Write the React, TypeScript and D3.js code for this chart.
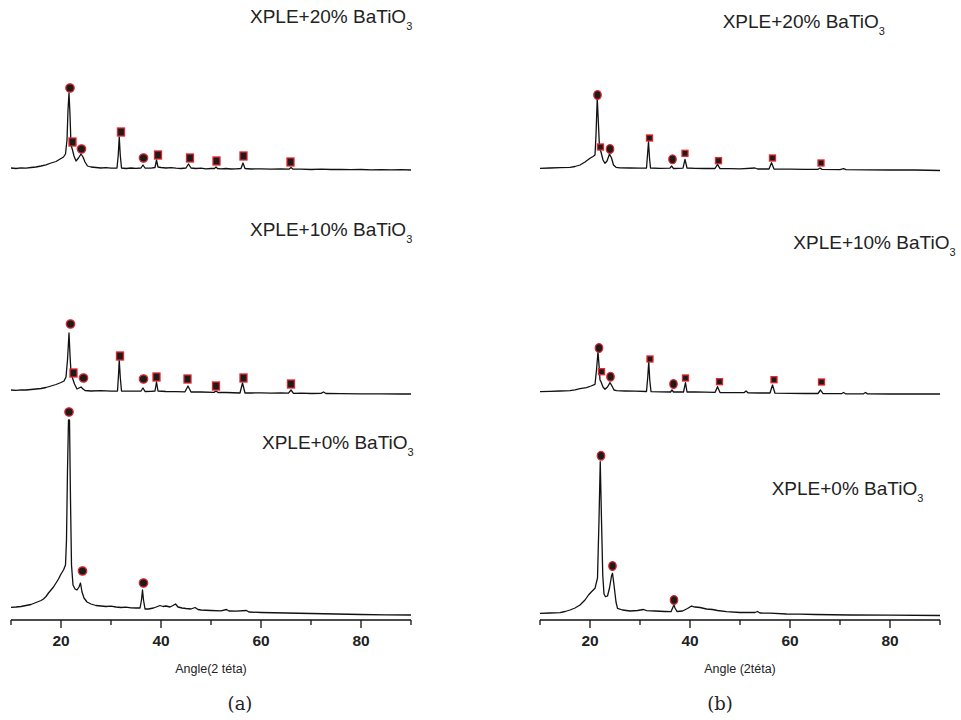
import React from "react";
import * as d3 from "d3";

type Pt = [number, number];
type Mk = [number, number, "c" | "s"];

// ---------- data ----------
const ANGLE_TICKS = [10, 20, 30, 40, 50, 60, 70, 80, 90];
const ANGLE_LABELS = [20, 40, 60, 80];
const SAMPLE_NAMES = ["XPLE+0% BaTiO", "XPLE+10% BaTiO", "XPLE+20% BaTiO"];
const SUBSCRIPT = "3";
const PANEL_TAGS = ["(a)", "(b)"];
const AXIS_TITLES = ["Angle(2 téta)", "Angle (2téta)"];

// panel (a)
const a0: Pt[] = [[10,12.7],[11,13],[12,13.5],[13,14.5],[14,15.5],[15,17.5],[16,19.5],[16.5,21],[17,23.5],[17.5,27],[18,30],[18.5,33],[19,37],[19.5,41],[20,46],[20.5,50],[20.9,55],[21.1,80],[21.3,150],[21.5,200],[21.7,200],[21.9,120],[22.1,55],[22.4,35],[22.8,31],[23.2,30],[23.6,33],[23.9,37],[24.2,28],[24.6,22],[25.2,18],[26,16],[27,14.5],[28,14],[29,13.5],[30,13.8],[31,13],[32,12.5],[33,12.8],[34,12.2],[35,12],[35.8,12],[36.1,20],[36.3,30],[36.5,20],[36.8,11],[37.5,11],[38.5,12],[39.3,13.5],[39.8,14.5],[40.4,13.5],[41,14],[41.8,13],[42.4,14.5],[42.9,16],[43.4,13],[44.2,12],[45,11.5],[46,11],[46.8,12.5],[47.4,10.5],[48,10],[50,9.5],[52,9.2],[53.1,10.5],[53.6,9],[55,8.8],[57.1,9.5],[57.6,8],[60,7.5],[65,7],[70,6.5],[75,6],[80,5.5],[85,5.2],[90,5]];
const a10: Pt[] = [[10,5],[11,4.6],[12,5.2],[13,5],[14,5.5],[15,6],[16,6.5],[17,7.5],[18,9],[19,10.5],[20,12.5],[20.6,14],[21.0,18],[21.3,35],[21.6,62],[21.8,40],[22.0,22],[22.3,17],[22.7,11],[23.2,6],[23.6,7],[24.0,8],[24.4,6],[24.8,4.5],[26,4],[28,4.3],[30,3.8],[31.3,4],[31.5,20],[31.65,35],[31.85,18],[32.1,4],[34,3.8],[36,4],[36.4,7],[36.8,3.5],[38,3.6],[38.8,4],[39.1,13],[39.4,4],[41,3.5],[43,3.3],[44.8,3.2],[45.4,9],[46,3],[48,3],[50.6,2.6],[51,4],[51.4,2.5],[53,2.5],[55.8,2],[56.3,12],[56.8,2],[58,2],[60,2.2],[62,1.8],[64,2],[65.5,1.8],[66,5],[66.5,1.6],[68,1.8],[70,1.5],[72,1.6],[72.5,3],[73,1.5],[76,1.3],[80,1.2],[84,1.1],[88,1],[90,1]];
const a20: Pt[] = [[10,2],[11,1.5],[12,2.2],[13,1.8],[14,2.5],[15,3],[16,4],[17,5.2],[18,7],[19,8.5],[19.5,10],[20,11.5],[20.5,13],[20.9,16],[21.2,30],[21.4,60],[21.6,77],[21.8,55],[22.0,25],[22.3,20],[22.6,14],[23.0,9],[23.5,12],[24.0,16],[24.4,13],[24.8,8],[25.3,4],[26,3],[27,2.5],[28,2],[29,2.3],[30,1.8],[31.2,2],[31.45,15],[31.65,33],[31.85,15],[32.1,2],[33,1.5],[34,2],[35,1.6],[36,2],[36.4,5],[36.8,2],[38,1.8],[38.8,2.5],[39.1,10],[39.4,3],[40,2.5],[41,2],[42,2.3],[43,1.8],[44,1.5],[45,2],[45.5,6],[46,2],[47,1.5],[48,1.8],[49,1.2],[50,1.5],[50.7,1.5],[51,3],[51.3,1.5],[52,1.2],[53,1.5],[54,1],[55,1.2],[56,1.5],[56.4,7],[56.8,1.5],[58,1],[60,1.2],[62,0.8],[64,1],[65.6,0.8],[66,2.5],[66.4,0.8],[68,0.8],[70,0.5],[72,0.8],[74,0.5],[76,0.6],[78,0.3],[80,0.5],[82,0.2],[84,0.4],[86,0.1],[88,0.3],[90,0]];
const a0Marks: Mk[] = [[21.6,208,"c"],[24.3,49,"c"],[36.5,37,"c"]];
const a10Marks: Mk[] = [[21.9,71,"c"],[22.5,22,"s"],[24.5,17,"c"],[31.8,39,"s"],[36.5,16,"c"],[39.1,18,"s"],[45.3,16,"s"],[51,9,"s"],[56.5,17,"s"],[66,11,"s"]];
const a20Marks: Mk[] = [[21.8,82,"c"],[22.3,28,"s"],[24.1,21,"c"],[32,38,"s"],[36.5,12,"c"],[39.4,15,"s"],[45.8,12,"s"],[51.1,9,"s"],[56.5,14,"s"],[65.9,8,"s"]];

// panel (b)
const b0: Pt[] = [[10,6.7],[12,7],[14,7.3],[15,8.5],[16,10],[17,12],[18,15],[19,20],[19.7,25],[20.3,28.3],[21,31.7],[21.5,42],[21.8,100],[22.05,158.3],[22.3,100],[22.55,45],[22.8,26],[23.1,23.3],[23.5,24],[23.9,32],[24.3,44],[24.5,46.7],[24.8,35],[25.2,18],[25.5,11.7],[26.5,10],[28,9],[29.5,9.5],[30.7,10.5],[31.3,9.3],[33,9],[35,8.5],[36.2,8.3],[36.6,13],[36.8,15],[37,12],[37.4,8.5],[38.5,9],[39.5,11.5],[40.3,14],[41,13],[42,12.5],[43.3,11],[44.5,10.5],[45.5,9.5],[47.3,8.3],[50,7.5],[53,7.5],[53.5,8.5],[54,7],[56,6.8],[59.3,6],[62,5.8],[65,5.5],[72,5],[80,4.8],[90,4.5]];
const b10: Pt[] = [[10,3.3],[12,3.6],[14,4],[16,4.3],[17,5.2],[18,6.3],[19.3,7.3],[20.2,9],[21.0,10.7],[21.3,25],[21.6,43.3],[21.8,30],[22.0,15],[22.2,13.3],[22.6,8],[23.0,5.7],[23.5,8],[24.0,12.3],[24.4,9],[24.8,5],[25.3,4.3],[27,4],[29,3.8],[31.3,3.5],[31.55,18],[31.75,33.3],[31.95,15],[32.2,3.3],[34,3.2],[36.1,3],[36.4,5],[36.7,3],[38.7,3],[39.1,12.3],[39.4,3],[41,3],[43,2.8],[45,2.6],[45.5,8.3],[46,2.5],[48,2.4],[50.8,2.3],[51.2,4],[51.6,2.2],[54,2],[56,2],[56.5,10],[57,1.8],[60,1.6],[63,1.5],[65.6,1.5],[66.1,5],[66.6,1.4],[70.3,1.3],[70.7,2.5],[71.1,1.2],[74.7,1.2],[75.1,2.5],[75.5,1.1],[80,1],[85,1],[90,1]];
const b20: Pt[] = [[10,1.7],[12,2],[14,2.3],[16,2.7],[17,3.5],[18,5],[19,8],[20,11.7],[20.6,13.5],[21.0,15],[21.2,35],[21.45,72],[21.65,50],[21.9,22],[22.2,18],[22.6,10],[23.0,6.7],[23.4,9],[23.9,16],[24.3,12],[24.7,5],[25.2,2.7],[26,2.2],[28,2],[30,1.8],[31.3,2],[31.5,15],[31.7,28.3],[31.9,12],[32.1,2],[34,1.6],[36,1.8],[36.3,4],[36.7,1.5],[38.6,1.8],[39,10.7],[39.4,2],[41,1.7],[43,1.5],[45,1.5],[45.5,5.7],[46,1.4],[48,1.3],[50,1.2],[53,2],[53.5,1],[55.8,1],[56.3,7.3],[56.8,1],[60,0.8],[63,0.7],[65.6,0.7],[66,2],[66.4,0.6],[70,0.4],[70.7,1.3],[71.2,0.3],[75,0.2],[80,0],[85,0],[90,-0.5]];
const b0Marks: Mk[] = [[22.2,164.3,"c"],[24.5,54,"c"],[36.8,20,"c"]];
const b10Marks: Mk[] = [[21.8,47,"c"],[22.3,23.3,"s"],[24.1,18.3,"c"],[32,36,"s"],[36.7,11,"c"],[39.1,17,"s"],[45.9,13.3,"s"],[56.8,15.3,"s"],[66.3,13,"s"]];
const b20Marks: Mk[] = [[21.5,75,"c"],[22.1,23,"s"],[24,21,"c"],[31.9,32,"s"],[36.5,10.7,"c"],[39,16.7,"s"],[45.7,9.3,"s"],[56.5,12,"s"],[66.2,7,"s"]];

const TRACE_OFFSETS = [0, 225, 450];

// ---------- layout ----------
const W = 961, H = 720;
const AXIS_Y = 620;
const panelsLayout = [
  {
    x0: 11, x1: 411,
    traces: [a0, a10, a20],
    marks: [a0Marks, a10Marks, a20Marks],
    labelPos: [[262, 448.5], [250, 236], [250, 22.7]],
    circ: { rx: 4.2, ry: 4.2 },
    sq: { w: 7, h: 8 },
    tagX: 240,
  },
  {
    x0: 540, x1: 940,
    traces: [b0, b10, b20],
    marks: [b0Marks, b10Marks, b20Marks],
    labelPos: [[771.7, 495], [793.3, 249.3], [722.7, 28.3]],
    circ: { rx: 3.7, ry: 4.4 },
    sq: { w: 6, h: 6 },
    tagX: 720,
  },
];

const SANS = "'Liberation Sans', Arial, Helvetica, sans-serif";

function Panel({ idx }: { idx: number }) {
  const p = panelsLayout[idx];
  const x = d3.scaleLinear().domain([10, 90]).range([p.x0, p.x1]);
  const y = d3.scaleLinear().domain([0, 620]).range([AXIS_Y, 0]);
  return (
    <g>
      {p.traces.map((tr, i) => {
        const off = TRACE_OFFSETS[i];
        const line = d3
          .line<Pt>()
          .x((d) => x(d[0]))
          .y((d) => y(d[1] + off));
        return (
          <path
            key={"t" + i}
            d={line(tr) || ""}
            fill="none"
            stroke="#111"
            strokeWidth={1.3}
            strokeLinejoin="round"
          />
        );
      })}
      {p.marks.map((mk, i) =>
        mk.map((m, j) => {
          const cx = x(m[0]);
          const cy = y(m[1] + TRACE_OFFSETS[i]);
          return m[2] === "c" ? (
            <ellipse
              key={`m${i}-${j}`}
              cx={cx}
              cy={cy}
              rx={p.circ.rx}
              ry={p.circ.ry}
              fill="#1c1c1c"
              stroke="#e3242b"
              strokeWidth={1.3}
            />
          ) : (
            <rect
              key={`m${i}-${j}`}
              x={cx - p.sq.w / 2}
              y={cy - p.sq.h / 2}
              width={p.sq.w}
              height={p.sq.h}
              fill="#1c1c1c"
              stroke="#e3242b"
              strokeWidth={1.3}
            />
          );
        })
      )}
      {p.labelPos.map((lp, i) => (
        <text
          key={"l" + i}
          x={lp[0]}
          y={lp[1]}
          fontFamily={SANS}
          fontSize={19}
          fill="#222"
        >
          {SAMPLE_NAMES[i]}
          <tspan fontSize={11} dy={7}>
            {SUBSCRIPT}
          </tspan>
        </text>
      ))}
      {/* axis */}
      <line x1={p.x0} x2={p.x1} y1={AXIS_Y} y2={AXIS_Y} stroke="#111" strokeWidth={1.3} />
      {ANGLE_TICKS.map((t) => {
        const major = ANGLE_LABELS.includes(t);
        return (
          <line
            key={"k" + t}
            x1={x(t)}
            x2={x(t)}
            y1={AXIS_Y}
            y2={AXIS_Y + (major ? 8 : 5)}
            stroke="#111"
            strokeWidth={1.3}
          />
        );
      })}
      {ANGLE_LABELS.map((t) => (
        <text
          key={"n" + t}
          x={x(t)}
          y={645.5}
          textAnchor="middle"
          fontFamily={SANS}
          fontWeight="bold"
          fontSize={15.5}
          fill="#222"
        >
          {t}
        </text>
      ))}
      <text
        x={(p.x0 + p.x1) / 2}
        y={673}
        textAnchor="middle"
        fontFamily={SANS}
        fontSize={12.5}
        fill="#222"
      >
        {AXIS_TITLES[idx]}
      </text>
      <text
        x={p.tagX}
        y={710}
        textAnchor="middle"
        fontFamily="'DejaVu Serif', 'Liberation Serif', serif"
        fontSize={18}
        fill="#222"
      >
        {PANEL_TAGS[idx]}
      </text>
    </g>
  );
}

export default function App() {
  return (
    <svg
      width={W}
      height={H}
      viewBox={`0 0 ${W} ${H}`}
      style={{ position: "absolute", left: 0, top: 0, background: "#fff" }}
    >
      <rect x={0} y={0} width={W} height={H} fill="#fff" />
      <Panel idx={0} />
      <Panel idx={1} />
    </svg>
  );
}
